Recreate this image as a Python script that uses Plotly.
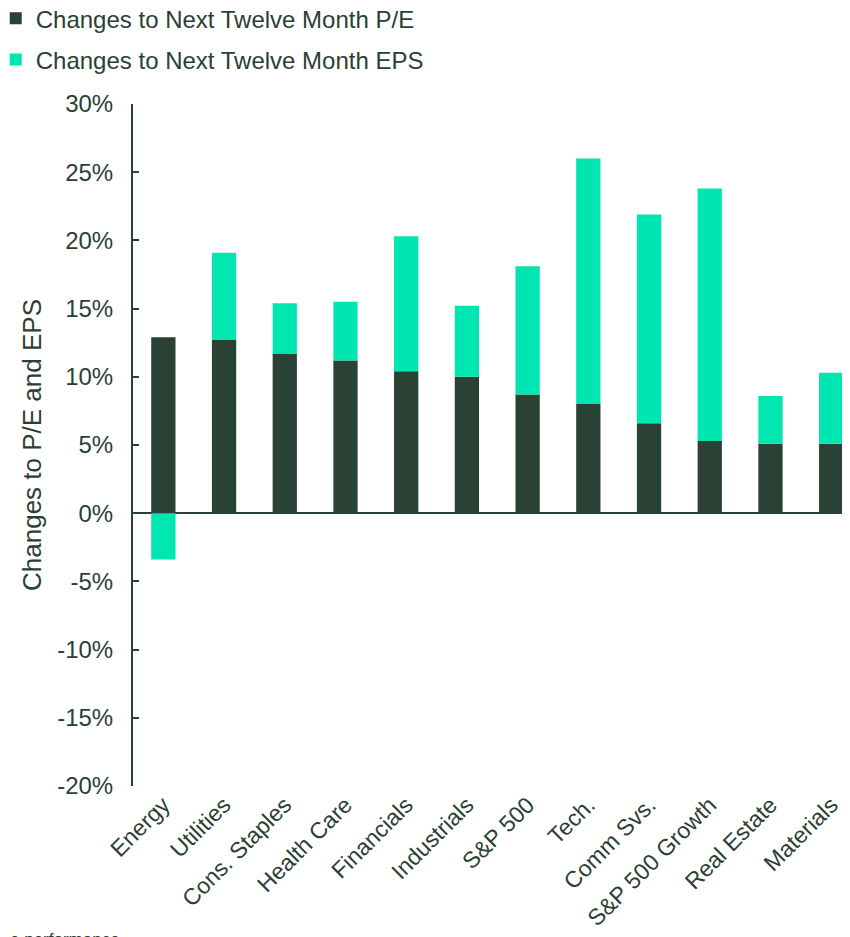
import plotly.graph_objects as go

categories = ["Energy", "Utilities", "Cons. Staples", "Health Care", "Financials",
              "Industrials", "S&P 500", "Tech.", "Comm Svs.", "S&P 500 Growth",
              "Real Estate", "Materials"]
pe_change = [12.9, 12.7, 11.7, 11.2, 10.4, 10.0, 8.7, 8.0, 6.6, 5.3, 5.1, 5.1]
eps_change = [-3.4, 6.4, 3.7, 4.3, 9.9, 5.2, 9.4, 18.0, 15.3, 18.5, 3.5, 5.2]
y_ticks = [-20, -15, -10, -5, 0, 5, 10, 15, 20, 25, 30]
y_tick_labels = [f"{v}%" for v in y_ticks]

dark = "#2a4135"
teal = "#00e6b0"
text_color = "#2b4035"
font_family = "Liberation Sans, Arial, sans-serif"

fig = go.Figure()
fig.add_trace(go.Bar(x=categories, y=pe_change, name="Changes to Next Twelve Month P/E",
                     marker=dict(color=dark, line=dict(width=0)), width=0.4,
                     legendgroup="a"))
fig.add_trace(go.Bar(x=categories, y=eps_change, name="Changes to Next Twelve Month EPS",
                     marker=dict(color=teal, line=dict(width=0)), width=0.4,
                     legendgroup="b"))

fig.update_layout(
    width=842, height=929,
    barmode="relative",
    plot_bgcolor="white", paper_bgcolor="white",
    margin=dict(l=125, r=0, t=96, b=151, autoexpand=False),
    font=dict(family=font_family, color=text_color, size=24),
    showlegend=True,
    legend=dict(xref="paper", yref="paper", x=-0.1775, y=1.158,
                xanchor="left", yanchor="top", font=dict(size=24, color=text_color),
                tracegroupgap=7, indentation=-10, bgcolor="rgba(0,0,0,0)"),
    xaxis=dict(range=[-0.5, 11.31], tickangle=-45, showline=False, showgrid=False,
               ticks="", automargin=False, tickfont=dict(size=23, color=text_color)),
    yaxis=dict(range=[-20, 30], tickvals=y_ticks, ticktext=y_tick_labels,
               showgrid=False, showline=True, linecolor=dark, linewidth=2,
               ticks="inside", ticklen=6, tickwidth=2, tickcolor=dark,
               ticklabelstandoff=13,
               zeroline=True, zerolinecolor=dark, zerolinewidth=2, automargin=False,
               tickfont=dict(size=24, color=text_color),
               title=dict(text="Changes to P/E and EPS", font=dict(size=26, color=text_color),
                          standoff=8)),
    annotations=[dict(text="e performance", xref="paper", yref="paper", x=-0.1745, y=-0.208,
                      xanchor="left", yanchor="top", showarrow=False,
                      font=dict(size=17, color=text_color))],
)

fig.write_html("out.html")
